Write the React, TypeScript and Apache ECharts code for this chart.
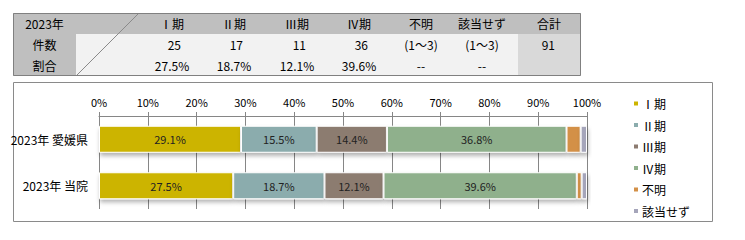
import React, { useEffect, useRef } from "react";
import * as echarts from "echarts";

const categories = ["2023年 愛媛県", "2023年 当院"];
const seriesNames = ["Ⅰ期", "Ⅱ期", "Ⅲ期", "Ⅳ期", "不明", "該当せず"];
const stage1 = [29.1, 27.5];
const stage2 = [15.5, 18.7];
const stage3 = [14.4, 12.1];
const stage4 = [36.8, 39.6];
const unknown = [2.9, 1.0];
const notApplicable = [1.3, 1.1];
const labeledSeries = [true, true, true, true, false, false];
const colors = ["#CCB400", "#8BACAD", "#8C7B70", "#8FB08C", "#D39047", "#A5A5BA"];
const xTicks = [0, 10, 20, 30, 40, 50, 60, 70, 80, 90, 100];

const tableHeader = ["2023年", "Ⅰ期", "Ⅱ期", "Ⅲ期", "Ⅳ期", "不明", "該当せず", "合計"];
const tableRowLabels = ["件数", "割合"];
const countRow = ["25", "17", "11", "36", "(1～3)", "(1～3)", "91"];
const pctRow = ["27.5%", "18.7%", "12.1%", "39.6%", "--", "--", ""];

const FONT = "'Noto Sans CJK JP', 'Noto Sans', sans-serif";

export default function App() {
  const ref = useRef<HTMLDivElement>(null);
  useEffect(() => {
    if (!ref.current) return;
    const chart = echarts.init(ref.current, undefined, { renderer: "svg" });
    const data = [stage1, stage2, stage3, stage4, unknown, notApplicable];

    // table geometry
    const tL = 13, tR = 581, tT = 13, tB = 76;
    const rowH = (tB - tT) / 3;
    const firstColR = 76, diagR = 139;
    const colCenters = [172, 234, 297, 359, 421, 482, 549];
    const totalColL = 518;

    const txt = (text: string, x: number, y: number, align = "center") => ({
      type: "text",
      x,
      y,
      silent: true,
      style: {
        text,
        fill: "#000",
        fontSize: 12,
        fontFamily: FONT,
        textAlign: align,
        textVerticalAlign: "middle",
        align,
        verticalAlign: "middle",
      },
    });

    const graphics: any[] = [
      { type: "rect", shape: { x: tL, y: tT, width: tR - tL, height: tB - tT }, style: { fill: "#F2F2F2" } },
      { type: "rect", shape: { x: tL, y: tT, width: tR - tL, height: rowH }, style: { fill: "#BFBFBF" } },
      { type: "rect", shape: { x: tL, y: tT, width: firstColR - tL, height: tB - tT }, style: { fill: "#BFBFBF" } },
      { type: "rect", shape: { x: totalColL, y: tT + rowH, width: tR - totalColL, height: tB - tT - rowH }, style: { fill: "#D9D9D9" } },
      { type: "line", shape: { x1: firstColR, y1: tB, x2: diagR, y2: tT }, style: { stroke: "#8A8A8A", lineWidth: 1 } },
      { type: "rect", shape: { x: tL + 0.5, y: tT + 0.5, width: tR - tL - 1, height: tB - tT - 1 }, style: { fill: "none", stroke: "#808080", lineWidth: 1 } },
      txt(tableHeader[0], (tL + firstColR) / 2, tT + rowH / 2),
      txt(tableRowLabels[0], (tL + firstColR) / 2, tT + rowH * 1.5),
      txt(tableRowLabels[1], (tL + firstColR) / 2, tT + rowH * 2.5),
      // chart frame
      { type: "rect", shape: { x: 13.5, y: 82.5, width: 699, height: 139 }, style: { fill: "none", stroke: "#8A8A8A", lineWidth: 1 } },
    ];
    colCenters.forEach((cx, i) => {
      graphics.push(txt(tableHeader[i + 1], cx, tT + rowH / 2));
      const c = countRow[i];
      if (c.startsWith("(")) graphics.push(txt(c, cx, tT + rowH * 1.5));
      else graphics.push(txt(c, cx + (i === 6 ? 6 : 9), tT + rowH * 1.5, "right"));
      if (pctRow[i]) graphics.push(txt(pctRow[i], cx, tT + rowH * 2.5));
    });

    chart.setOption({
      animation: false,
      textStyle: { fontFamily: FONT },
      grid: { left: 99, right: 158, top: 116, height: 93, containLabel: false },
      legend: {
        orient: "vertical",
        left: 627,
        top: 92,
        itemWidth: 6,
        itemHeight: 6,
        itemGap: 8.5,
        icon: "rect",
        textStyle: { fontSize: 12, color: "#000", fontFamily: FONT, padding: [0, 0, 0, -2], lineHeight: 13 },
        data: seriesNames,
      },
      xAxis: {
        type: "value",
        position: "top",
        min: 0,
        max: 100,
        interval: 10,
        axisLine: { show: true, lineStyle: { color: "#868686" } },
        axisTick: { show: true, length: 4, lineStyle: { color: "#868686" } },
        splitLine: { show: true, lineStyle: { color: "#868686" } },
        axisLabel: {
          formatter: (v: number) => (xTicks.includes(v) ? v + "%" : ""),
          fontSize: 11,
          color: "#000",
          margin: 9,
          fontFamily: FONT,
        },
      },
      yAxis: {
        type: "category",
        inverse: true,
        data: categories,
        axisLine: { show: false },
        axisTick: { show: false },
        axisLabel: { fontSize: 12, color: "#000", margin: 11, fontFamily: FONT },
      },
      series: seriesNames.map((name, i) => ({
        name,
        type: "bar",
        stack: "total",
        barWidth: 27,
        data: data[i],
        itemStyle: {
          color: colors[i],
          borderColor: "#fff",
          borderWidth: 1,
          shadowColor: "rgba(0,0,0,0.3)",
          shadowBlur: 4,
          shadowOffsetY: 3,
          shadowOffsetX: 1,
        },
        label: {
          show: labeledSeries[i],
          position: "inside",
          formatter: (p: any) => p.value.toFixed(1) + "%",
          fontSize: 11,
          color: "#222",
          fontFamily: FONT,
        },
      })),
      graphic: { elements: graphics },
    });
    return () => chart.dispose();
  }, []);
  return (
    <div
      ref={ref}
      style={{ position: "fixed", left: 0, top: 0, width: 745, height: 240, background: "#fff" }}
    />
  );
}
